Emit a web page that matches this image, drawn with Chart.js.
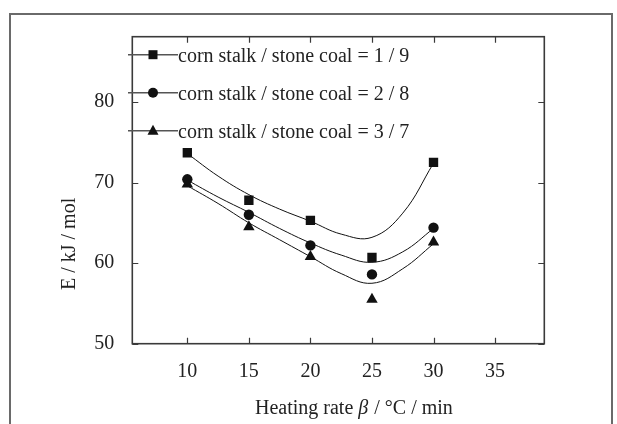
<!DOCTYPE html>
<html>
<head>
<meta charset="utf-8">
<script src="https://cdn.jsdelivr.net/npm/chart.js@4/dist/chart.umd.min.js"></script>
<style>
  html, body { margin: 0; padding: 0; background: #fff; }
  #wrap { position: relative; width: 617px; height: 424px; overflow: hidden; }
  #moldura { position: absolute; left: 9px; top: 13px; width: 604px; height: 440px; border: 2px solid #6a6a6a; box-sizing: border-box; }
  #grafico { position: absolute; left: 0; top: 0; }
</style>
</head>
<body>
<div id="wrap">
  <div id="moldura"></div>
  <canvas id="grafico" width="617" height="424"></canvas>
</div>
<script>
// --- dados ---
const taxas = [10, 15, 20, 25, 30]; // °C/min
const e19 = [73.7, 67.8, 65.3, 60.7, 72.5];
const e28 = [70.4, 66.0, 62.2, 58.6, 64.4];
const e37 = [69.8, 64.5, 60.8, 55.5, 62.6];

const curvaX = [10, 12.5, 15, 17.5, 20, 22.5, 25, 27.5, 30];
const curva19 = [73.6, 70.8, 68.5, 66.7, 65.2, 63.6, 63.2, 66.2, 72.4];
const curva28 = [70.3, 68.2, 66.3, 64.3, 62.5, 61.0, 60.1, 61.4, 64.3];
const curva37 = [69.6, 67.4, 65.0, 62.9, 60.8, 58.7, 57.5, 59.3, 62.4];

const legendas = [
  "corn stalk / stone coal = 1 / 9",
  "corn stalk / stone coal = 2 / 8",
  "corn stalk / stone coal = 3 / 7",
];
const estilos = ["rect", "circle", "triangle"];

const ticksX = [10, 15, 20, 25, 30, 35];
const ticksY = [50, 60, 70, 80];

const fonte = "'Liberation Serif', 'Times New Roman', serif";
const corTexto = "#222";
const corEixo = "#3a3a3a";

function pontos(xs, ys) {
  return xs.map((x, i) => ({ x: x, y: ys[i] }));
}

// desenhar marcador (legenda)
function marcador(ctx, estilo, x, y) {
  ctx.beginPath();
  if (estilo === "rect") {
    ctx.rect(x - 4.5, y - 4.5, 9, 9);
  } else if (estilo === "circle") {
    ctx.arc(x, y, 5, 0, Math.PI * 2);
  } else {
    ctx.moveTo(x, y - 6);
    ctx.lineTo(x + 5.5, y + 4);
    ctx.lineTo(x - 5.5, y + 4);
    ctx.closePath();
  }
  ctx.fill();
}

// moldura do gráfico, ticks para dentro, títulos e legenda
const extras = {
  id: "extras",
  beforeDatasetsDraw(chart) {
    const { ctx, chartArea: a, scales } = chart;
    ctx.save();
    ctx.strokeStyle = corEixo;
    ctx.lineWidth = 1.6;
    ctx.strokeRect(a.left, a.top, a.right - a.left, a.bottom - a.top);
    ctx.lineWidth = 1.2;
    ctx.beginPath();
    ticksX.forEach((v) => {
      const px = Math.round(scales.x.getPixelForValue(v)) + 0.5;
      ctx.moveTo(px, a.bottom);
      ctx.lineTo(px, a.bottom - 6);
      ctx.moveTo(px, a.top);
      ctx.lineTo(px, a.top + 6);
    });
    ticksY.forEach((v) => {
      const py = Math.round(scales.y.getPixelForValue(v)) + 0.5;
      ctx.moveTo(a.left, py);
      ctx.lineTo(a.left + 6, py);
      ctx.moveTo(a.right, py);
      ctx.lineTo(a.right - 6, py);
    });
    ctx.stroke();

    // título eixo X (com beta em itálico)
    ctx.fillStyle = corTexto;
    ctx.textBaseline = "alphabetic";
    ctx.textAlign = "left";
    const p1 = "Heating rate ";
    const p2 = "\u03B2";
    const p3 = " / \u00B0C / min";
    ctx.font = "20px " + fonte;
    const w1 = ctx.measureText(p1).width;
    ctx.font = "italic 20px " + fonte;
    const w2 = ctx.measureText(p2).width;
    let xt = 255;
    ctx.font = "20px " + fonte;
    ctx.fillText(p1, xt, 414);
    ctx.font = "italic 20px " + fonte;
    ctx.fillText(p2, xt + w1, 414);
    ctx.font = "20px " + fonte;
    ctx.fillText(p3, xt + w1 + w2 + 1, 414);

    // título eixo Y
    ctx.save();
    ctx.translate(75, 290);
    ctx.rotate(-Math.PI / 2);
    ctx.font = "20px " + fonte;
    ctx.fillText("E / kJ / mol", 0, 0);
    ctx.restore();
    ctx.restore();
  },
  afterDraw(chart) {
    const ctx = chart.ctx;
    ctx.save();
    const linhas = [54.7, 92.7, 130.7];
    legendas.forEach((txt, i) => {
      const y = linhas[i];
      ctx.strokeStyle = "#555";
      ctx.lineWidth = 1.5;
      ctx.beginPath();
      ctx.moveTo(128, y);
      ctx.lineTo(178, y);
      ctx.stroke();
      ctx.fillStyle = "#111";
      marcador(ctx, estilos[i], 153, y);
      ctx.fillStyle = corTexto;
      ctx.font = "20px " + fonte;
      ctx.textBaseline = "alphabetic";
      ctx.fillText(txt, 178, y + 7);
    });
    ctx.restore();
  },
};

const curvaBase = {
  showLine: true,
  pointRadius: 0,
  borderColor: "#111",
  borderWidth: 1,
  tension: 0.4,
  fill: false,
};
const marcaBase = {
  showLine: false,
  backgroundColor: "#111",
  borderColor: "#111",
  borderWidth: 0,
};

new Chart(document.getElementById("grafico").getContext("2d"), {
  type: "scatter",
  data: {
    datasets: [
      { ...curvaBase, data: pontos(curvaX, curva19) },
      { ...curvaBase, data: pontos(curvaX, curva28) },
      { ...curvaBase, data: pontos(curvaX, curva37) },
      { ...marcaBase, data: pontos(taxas, e19), pointStyle: "rect", pointRadius: 6.6 },
      { ...marcaBase, data: pontos(taxas, e28), pointStyle: "circle", pointRadius: 5.2 },
      { ...marcaBase, data: pontos(taxas, e37), pointStyle: "triangle", pointRadius: 6.6 },
    ],
  },
  options: {
    responsive: false,
    animation: false,
    layout: { padding: { left: 0, top: 36.7, right: 72.7, bottom: 0 } },
    plugins: { legend: { display: false }, tooltip: { enabled: false } },
    scales: {
      x: {
        type: "linear",
        min: 5.53,
        max: 39.0,
        afterBuildTicks: (s) => { s.ticks = ticksX.map((v) => ({ value: v })); },
        afterFit: (s) => { s.height = 80.3; },
        grid: { display: false, drawTicks: false },
        border: { display: false },
        ticks: { font: { family: fonte, size: 20 }, color: corTexto, padding: 16, maxRotation: 0 },
      },
      y: {
        type: "linear",
        min: 50,
        max: 88.1,
        afterBuildTicks: (s) => { s.ticks = ticksY.map((v) => ({ value: v })); },
        afterFit: (s) => { s.width = 132.3; },
        grid: { display: false, drawTicks: false },
        border: { display: false },
        ticks: { font: { family: fonte, size: 20 }, color: corTexto, padding: 18 },
      },
    },
  },
  plugins: [extras],
});
</script>
</body>
</html>
